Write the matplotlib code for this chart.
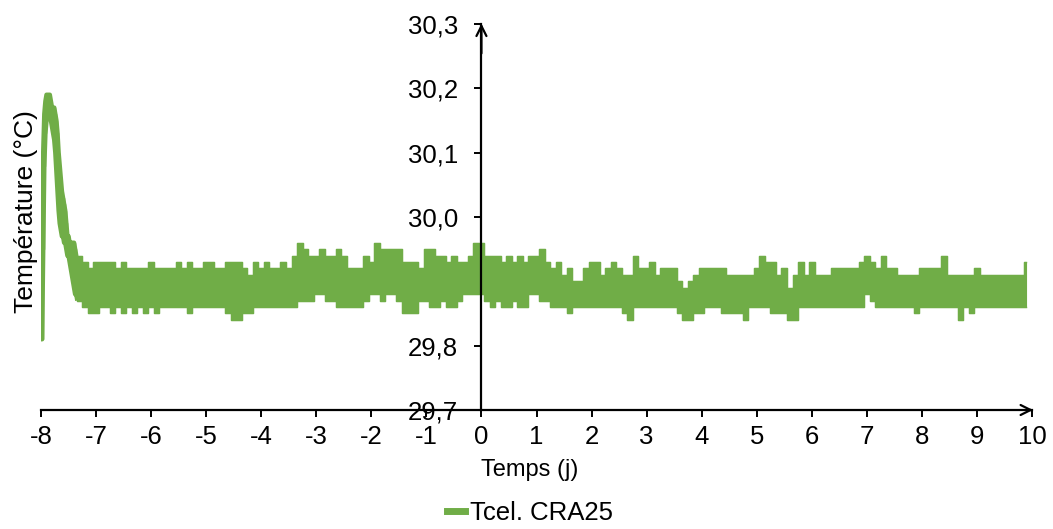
import numpy as np
import matplotlib
matplotlib.use("Agg")
import matplotlib.pyplot as plt
from matplotlib.lines import Line2D

plt.rcParams['font.family'] = ['Liberation Sans', 'DejaVu Sans']
plt.rcParams['axes.unicode_minus'] = False

# ---------------- data ----------------
series_name = "Tcel. CRA25"
x_label = "Temps (j)"
y_label = "Température (°C)"
x_ticks = [-8, -7, -6, -5, -4, -3, -2, -1, 0, 1, 2, 3, 4, 5, 6, 7, 8, 9, 10]
x_tick_labels = ["-8", "-7", "-6", "-5", "-4", "-3", "-2", "-1", "0", "1",
                 "2", "3", "4", "5", "6", "7", "8", "9", "10"]
y_ticks = [29.7, 29.8, 29.9, 30.0, 30.1, 30.2, 30.3]
y_tick_labels = ["29,7", "29,8", "29,9", "30,0", "30,1", "30,2", "30,3"]

# start-up transient (fine time resolution, days)
t_start = [-8.00, -7.98, -7.96, -7.94, -7.92, -7.90, -7.88, -7.86, -7.84, -7.82,
           -7.80, -7.78, -7.76, -7.74, -7.72, -7.70, -7.68, -7.66, -7.64, -7.62,
           -7.60, -7.58, -7.56, -7.54, -7.52, -7.50, -7.48, -7.46, -7.44, -7.42,
           -7.40, -7.38, -7.36, -7.34]
hi_start = [29.81, 29.97, 30.10, 30.16, 30.18, 30.19, 30.19, 30.19, 30.19, 30.18,
            30.17, 30.17, 30.17, 30.16, 30.15, 30.13, 30.10, 30.08, 30.06, 30.04,
            30.03, 30.02, 30.01, 29.99, 29.97, 29.97, 29.96, 29.96, 29.96, 29.96,
            29.96, 29.95, 29.94, 29.93]
lo_start = [29.81, 29.81, 29.95, 30.08, 30.13, 30.15, 30.16, 30.16, 30.16, 30.15,
            30.14, 30.13, 30.12, 30.10, 30.07, 30.04, 30.01, 29.99, 29.98, 29.97,
            29.97, 29.96, 29.96, 29.95, 29.94, 29.94, 29.93, 29.92, 29.91, 29.90,
            29.89, 29.88, 29.88, 29.87]

# steady regime, 0.1-day bins from -7.3 to 9.9: upper / lower envelope of the trace
hi_main = [
    29.94, 29.93, 29.92, 29.93, 29.93, 29.93, 29.93, 29.92, 29.93, 29.92,   # -7.3 .. -6.4
    29.92, 29.92, 29.92, 29.93, 29.92, 29.92, 29.92, 29.92, 29.93, 29.92,   # -6.3 .. -5.4
    29.93, 29.92, 29.92,                                                    # -5.3 .. -5.1
    29.93, 29.93, 29.92, 29.92, 29.93, 29.93, 29.93, 29.92, 29.91, 29.93,   # -5.0 .. -4.1
    29.92, 29.93, 29.92, 29.92, 29.93, 29.92, 29.94, 29.96, 29.95, 29.94,   # -4.0 .. -3.1
    29.94, 29.95, 29.94, 29.94, 29.95, 29.94, 29.92, 29.92, 29.92, 29.94,   # -3.0 .. -2.1
    29.93, 29.96, 29.95, 29.95, 29.95, 29.95, 29.93, 29.93, 29.93, 29.92,   # -2.0 .. -1.1
    29.95, 29.95, 29.94, 29.94, 29.93, 29.94, 29.93, 29.93, 29.94, 29.96,   # -1.0 .. -0.1
    29.96, 29.94, 29.94, 29.94, 29.93, 29.94, 29.93, 29.94, 29.93,          #  0.0 ..  0.8
    29.94, 29.94, 29.95, 29.93, 29.92, 29.93, 29.91, 29.92, 29.90, 29.90,   #  0.9 ..  1.8
    29.92, 29.93, 29.93, 29.91, 29.92, 29.93, 29.92, 29.91, 29.91, 29.94,   #  1.9 ..  2.8
    29.92, 29.92, 29.93, 29.91, 29.92, 29.92, 29.92, 29.90, 29.89, 29.90,   #  2.9 ..  3.8
    29.91, 29.92, 29.92, 29.92, 29.92, 29.92, 29.91, 29.91, 29.91, 29.91,   #  3.9 ..  4.8
    29.91, 29.92, 29.94, 29.93, 29.93, 29.91, 29.92, 29.89, 29.91, 29.93,   #  4.9 ..  5.8
    29.91, 29.93, 29.91, 29.91, 29.91, 29.92, 29.92, 29.92, 29.92, 29.92,   #  5.9 ..  6.8
    29.93, 29.94, 29.93, 29.92, 29.94, 29.92, 29.92, 29.91, 29.91, 29.91,   #  6.9 ..  7.8
    29.91, 29.92, 29.92, 29.92, 29.92, 29.94, 29.91, 29.91, 29.91, 29.91,   #  7.9 ..  8.8
    29.91, 29.92, 29.91, 29.91, 29.91, 29.91, 29.91, 29.91, 29.91, 29.91,   #  8.9 ..  9.8
    29.93,                                                                  #  9.9
]
lo_main = [
    29.87, 29.86, 29.85, 29.85, 29.86, 29.86, 29.85, 29.86, 29.85, 29.86,   # -7.3 .. -6.4
    29.85, 29.86, 29.85, 29.86, 29.85, 29.86, 29.86, 29.86, 29.86, 29.86,   # -6.3 .. -5.4
    29.85, 29.86, 29.86,                                                    # -5.3 .. -5.1
    29.86, 29.86, 29.86, 29.86, 29.85, 29.84, 29.84, 29.85, 29.85, 29.86,   # -5.0 .. -4.1
    29.86, 29.86, 29.86, 29.86, 29.86, 29.86, 29.86, 29.87, 29.87, 29.87,   # -4.0 .. -3.1
    29.88, 29.88, 29.87, 29.87, 29.86, 29.86, 29.86, 29.86, 29.86, 29.87,   # -3.0 .. -2.1
    29.88, 29.88, 29.87, 29.88, 29.88, 29.87, 29.85, 29.85, 29.85, 29.87,   # -2.0 .. -1.1
    29.87, 29.86, 29.86, 29.87, 29.86, 29.86, 29.87, 29.88, 29.88, 29.88,   # -1.0 .. -0.1
    29.88, 29.87, 29.86, 29.87, 29.86, 29.86, 29.87, 29.86, 29.86,          #  0.0 ..  0.8
    29.88, 29.88, 29.87, 29.87, 29.86, 29.86, 29.86, 29.85, 29.86, 29.86,   #  0.9 ..  1.8
    29.86, 29.86, 29.86, 29.86, 29.86, 29.86, 29.86, 29.85, 29.84, 29.86,   #  1.9 ..  2.8
    29.86, 29.86, 29.86, 29.86, 29.86, 29.86, 29.86, 29.85, 29.84, 29.84,   #  2.9 ..  3.8
    29.85, 29.85, 29.86, 29.86, 29.86, 29.85, 29.85, 29.85, 29.85, 29.84,   #  3.9 ..  4.8
    29.86, 29.86, 29.86, 29.86, 29.85, 29.85, 29.85, 29.84, 29.84, 29.86,   #  4.9 ..  5.8
    29.86, 29.86, 29.86, 29.86, 29.86, 29.86, 29.86, 29.86, 29.86, 29.86,   #  5.9 ..  6.8
    29.86, 29.88, 29.87, 29.86, 29.86, 29.86, 29.86, 29.86, 29.86, 29.86,   #  6.9 ..  7.8
    29.85, 29.86, 29.86, 29.86, 29.86, 29.86, 29.86, 29.86, 29.84, 29.86,   #  7.9 ..  8.8
    29.85, 29.86, 29.86, 29.86, 29.86, 29.86, 29.86, 29.86, 29.86, 29.86,   #  8.9 ..  9.8
    29.86,                                                                  #  9.9
]
t_main = np.round(np.arange(len(hi_main)) * 0.1 - 7.3, 2)

# ---------------- plot ----------------
green = "#70AD47"
t = np.concatenate([t_start, t_main])
hi = np.concatenate([hi_start, hi_main])
lo = np.concatenate([lo_start, lo_main])

fig = plt.figure(figsize=(10.53, 5.29), dpi=100)
ax = fig.add_axes([41 / 1053, 119 / 529, 991 / 1053, 386 / 529])

ax.fill_between(t, lo, hi, step='mid', color=green, lw=0.8, zorder=2)
ax.plot(t, hi, drawstyle='steps-mid', color=green, lw=1.0, zorder=2)
ax.plot(t, lo, drawstyle='steps-mid', color=green, lw=1.0, zorder=2)
# the steep start-up trace is a thick line: give it its stroke width
ax.plot(t_start, hi_start, color=green, lw=3.2, solid_capstyle='butt', zorder=2)
ax.plot(t_start, lo_start, color=green, lw=3.2, solid_capstyle='butt', zorder=2)

ax.set_xlim(-8, 10)
ax.set_ylim(29.7, 30.3)

for s in ['top', 'right']:
    ax.spines[s].set_visible(False)
ax.spines['left'].set_position(('data', 0))
ax.spines['left'].set_linewidth(1.6)
ax.spines['bottom'].set_linewidth(1.6)
ax.spines['left'].set_zorder(3)
ax.spines['bottom'].set_zorder(3)

ax.set_xticks(x_ticks)
ax.set_xticklabels(x_tick_labels)
ax.set_yticks(y_ticks)
ax.set_yticklabels(y_tick_labels)
ax.tick_params(axis='x', direction='out', length=5, width=1.4, pad=6,
               labelsize=18.5, colors='black')
ax.tick_params(axis='y', direction='out', length=5, width=1.4, pad=12,
               labelsize=18.5, colors='black')
for lab in ax.get_yticklabels():
    lab.set_zorder(4)

# axis arrows
ax.annotate('', xy=(0, 30.305), xytext=(0, 30.25),
            arrowprops=dict(arrowstyle='->', color='black', lw=1.6,
                            mutation_scale=18), annotation_clip=False)
ax.annotate('', xy=(10.07, 29.7), xytext=(9.9, 29.7),
            arrowprops=dict(arrowstyle='->', color='black', lw=1.6,
                            mutation_scale=18), annotation_clip=False)

fig.text(530 / 1053, 1 - 470 / 529, x_label, fontsize=17, ha='center', va='center')
fig.text(26 / 1053, 1 - 212 / 529, y_label, fontsize=19, ha='center', va='center',
         rotation=90)

handle = Line2D([], [], color=green, lw=5)
fig.legend([handle], [series_name], loc='center',
           bbox_to_anchor=(530 / 1053, 1 - 513 / 529), frameon=False,
           fontsize=18.5, handlelength=0.7, handletextpad=0.2,
           borderaxespad=0, borderpad=0)

fig.savefig("out.png", dpi=100)
